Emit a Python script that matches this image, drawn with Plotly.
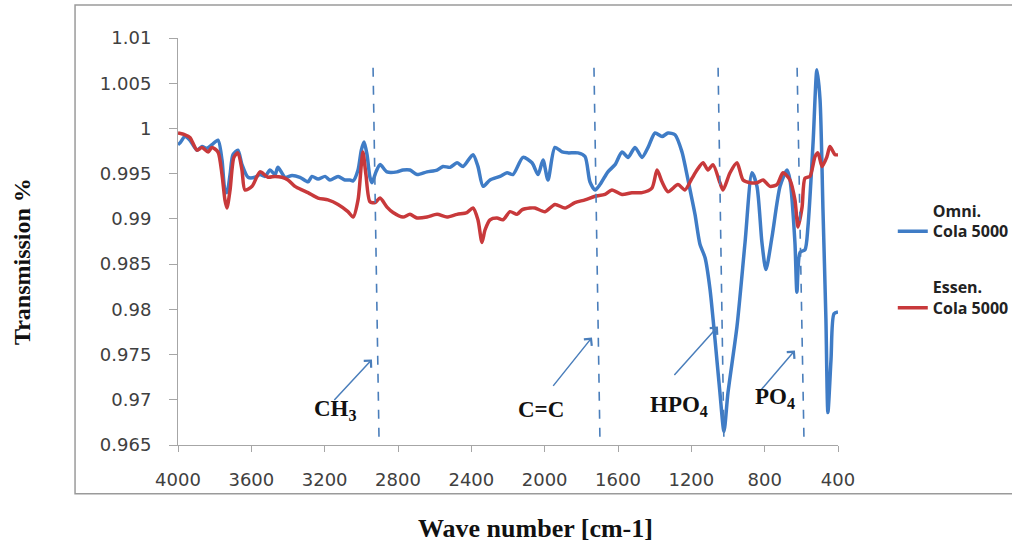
import plotly.graph_objects as go

# ---- data ----
wn_omni = [4000, 3989, 3962, 3935, 3896, 3869, 3842, 3815, 3782, 3760, 3744, 3733, 3716, 3700,
           3673, 3651, 3618, 3580, 3553, 3525, 3498, 3471, 3455, 3416, 3378, 3335, 3291, 3269,
           3236, 3198, 3171, 3127, 3089, 3062, 3045, 3018, 3000, 2985, 2969, 2953, 2942, 2920,
           2898, 2860, 2805, 2773, 2735, 2696, 2642, 2587, 2555, 2516, 2478, 2445, 2391, 2364,
           2336, 2298, 2244, 2205, 2173, 2118, 2069, 2036, 2009, 1982, 1944, 1905, 1873, 1818,
           1780, 1753, 1725, 1698, 1655, 1616, 1578, 1545, 1507, 1469, 1436, 1398, 1360, 1327,
           1289, 1251, 1229, 1207, 1180, 1153, 1125, 1098, 1071, 1044, 1022, 1000, 951, 907,
           869, 842, 815, 793, 760, 716, 678, 662, 635, 624, 607, 580, 564, 536, 515, 498,
           482, 466, 455, 438, 422, 400]
tr_omni = [0.9982, 0.9984, 0.9991, 0.9987, 0.9976, 0.9980, 0.9978, 0.9982, 0.9987, 0.9965,
           0.9932, 0.9929, 0.9949, 0.9971, 0.9976, 0.9960, 0.9946, 0.9946, 0.9949, 0.9947,
           0.9954, 0.9949, 0.9957, 0.9946, 0.9948, 0.9946, 0.9941, 0.9947, 0.9944, 0.9947,
           0.9943, 0.9947, 0.9943, 0.9943, 0.9942, 0.9954, 0.9976, 0.9985, 0.9971, 0.9946,
           0.9940, 0.9952, 0.9960, 0.9952, 0.9952, 0.9954, 0.9954, 0.9949, 0.9952, 0.9954,
           0.9958, 0.9957, 0.9962, 0.9958, 0.9971, 0.9958, 0.9936, 0.9943, 0.9947, 0.9951,
           0.9949, 0.9968, 0.9962, 0.9949, 0.9965, 0.9943, 0.9979, 0.9974, 0.9973, 0.9973,
           0.9969, 0.9941, 0.9932, 0.9938, 0.9952, 0.9960, 0.9974, 0.9968, 0.9979, 0.9968,
           0.9979, 0.9995, 0.9991, 0.9995, 0.9993, 0.9974, 0.9954, 0.9932, 0.9905, 0.9872,
           0.9857, 0.9822, 0.9767, 0.9708, 0.9665, 0.9708, 0.9781, 0.9874, 0.9951, 0.9936,
           0.9874, 0.9844, 0.9880, 0.9936, 0.9954, 0.9943, 0.9874, 0.9819, 0.9863, 0.9866,
           0.9891, 0.9984, 1.0065, 1.0032, 0.9910, 0.9790, 0.9686, 0.9745, 0.9795, 0.9797]

wn_essen = [4000, 3962, 3935, 3896, 3869, 3836, 3815, 3782, 3760, 3744, 3733, 3716, 3695, 3673,
            3651, 3635, 3596, 3553, 3509, 3471, 3433, 3400, 3362, 3324, 3291, 3236, 3182, 3127,
            3073, 3045, 3018, 3000, 2991, 2975, 2953, 2925, 2898, 2860, 2827, 2773, 2735, 2696,
            2642, 2587, 2533, 2478, 2424, 2391, 2364, 2342, 2325, 2298, 2260, 2227, 2189, 2151,
            2124, 2080, 2053, 1998, 1944, 1889, 1835, 1780, 1725, 1671, 1633, 1578, 1524, 1469,
            1415, 1387, 1360, 1327, 1273, 1235, 1196, 1169, 1136, 1109, 1082, 1044, 1027, 989,
            951, 918, 880, 842, 809, 771, 733, 700, 662, 635, 618, 596, 580, 553, 525, 509,
            487, 460, 444, 416, 400]
tr_essen = [0.9995, 0.9993, 0.9990, 0.9976, 0.9979, 0.9974, 0.9979, 0.9974, 0.9949, 0.9921,
            0.9912, 0.9932, 0.9968, 0.9973, 0.9954, 0.9932, 0.9936, 0.9952, 0.9946, 0.9947,
            0.9946, 0.9943, 0.9936, 0.9932, 0.9929, 0.9923, 0.9921, 0.9916, 0.9908, 0.9902,
            0.9921, 0.9960, 0.9974, 0.9949, 0.9919, 0.9918, 0.9923, 0.9913, 0.9907, 0.9902,
            0.9905, 0.9901, 0.9902, 0.9905, 0.9902, 0.9905, 0.9907, 0.9912, 0.9899, 0.9874,
            0.9888, 0.9899, 0.9901, 0.9899, 0.9908, 0.9905, 0.9910, 0.9912, 0.9912, 0.9908,
            0.9916, 0.9912, 0.9918, 0.9921, 0.9925, 0.9927, 0.9932, 0.9927, 0.9929, 0.9929,
            0.9934, 0.9954, 0.9941, 0.9930, 0.9938, 0.9932, 0.9945, 0.9954, 0.9962, 0.9954,
            0.9960, 0.9940, 0.9932, 0.9951, 0.9962, 0.9943, 0.9940, 0.9940, 0.9943, 0.9936,
            0.9938, 0.9951, 0.9943, 0.9921, 0.9891, 0.9913, 0.9945, 0.9947, 0.9969, 0.9973,
            0.9958, 0.9969, 0.9980, 0.9971, 0.9971]

x_ticks = [4000, 3600, 3200, 2800, 2400, 2000, 1600, 1200, 800, 400]
y_ticks = [0.965, 0.97, 0.975, 0.98, 0.985, 0.99, 0.995, 1.0, 1.005, 1.01]
y_tick_text = ["0.965", "0.97", "0.975", "0.98", "0.985", "0.99", "0.995", "1", "1.005", "1.01"]

# band markers: (wavenumber at top, wavenumber at bottom) of the dashed guide lines
band_lines = [(2936, 2903), (1731, 1698), (1054, 1022), (623, 585)]
band_labels = ["CH<sub>3</sub>", "C=C", "HPO<sub>4</sub>", "PO<sub>4</sub>"]
label_pos = [(3140, 0.9689), (2020, 0.9689), (1270, 0.9693), (744, 0.9702)]
arrow_head = [(2942, 0.97446), (1742, 0.97689), (1055, 0.97810), (635, 0.97545)]
arrow_tail = [(3155, 0.96982), (1960, 0.97137), (1300, 0.97258), (831, 0.97082)]

BLUE = "#3f7cc6"
RED = "#c8393b"
GUIDE = "#4a7ebb"

fig = go.Figure()
fig.add_trace(go.Scatter(x=wn_omni, y=tr_omni, mode="lines", name="Omni.<br>Cola 5000",
                         legendgroup="omni",
                         line=dict(color=BLUE, width=3.5, shape="spline", smoothing=0.7)))
fig.add_trace(go.Scatter(x=wn_essen, y=tr_essen, mode="lines", name="Essen.<br>Cola 5000",
                         legendgroup="essen",
                         line=dict(color=RED, width=3.5, shape="spline", smoothing=0.7)))

shapes = []
for top, bot in band_lines:
    shapes.append(dict(type="line", xref="x", yref="y", x0=top, y0=1.0067, x1=bot, y1=0.965,
                       line=dict(color=GUIDE, width=1.6, dash="dash")))
# outer chart frame
shapes.append(dict(type="rect", xref="paper", yref="paper", x0=-0.156, x1=1.4, y0=-0.120, y1=1.081,
                   line=dict(color="#9a9a9a", width=1.5), layer="below"))

annotations = []
for (hx, hy), (tx, ty) in zip(arrow_head, arrow_tail):
    annotations.append(dict(x=hx, y=hy, ax=tx, ay=ty, xref="x", yref="y", axref="x", ayref="y",
                            text="", showarrow=True, arrowhead=4, arrowsize=1.3, arrowwidth=1.5,
                            arrowcolor=GUIDE))
for txt, (lx, ly) in zip(band_labels, label_pos):
    annotations.append(dict(x=lx, y=ly, xref="x", yref="y", text="<b>" + txt + "</b>",
                            xanchor="center", yanchor="middle",
                            showarrow=False, font=dict(family="Liberation Serif", size=23, color="#111111")))
annotations.append(dict(x=0.542, y=-0.204, xref="paper", yref="paper", text="<b>Wave number [cm-1]</b>",
                        xanchor="center", yanchor="middle",
                        showarrow=False, font=dict(family="Liberation Serif", size=26, color="#111111")))
annotations.append(dict(x=-0.236, y=0.45, xref="paper", yref="paper", text="<b>Transmission %</b>",
                        textangle=-90, xanchor="center", yanchor="middle", showarrow=False,
                        font=dict(family="Liberation Serif", size=24, color="#111111")))

fig.update_layout(
    width=1012, height=543,
    margin=dict(l=178, r=174, t=38, b=98, autoexpand=False),
    paper_bgcolor="white", plot_bgcolor="white",
    showlegend=True,
    legend=dict(x=1.083, y=0.618, xanchor="left", yanchor="top", valign="bottom",
                font=dict(family="Open Sans", size=16, color="#222222", weight="bold"),
                tracegroupgap=32, bgcolor="rgba(0,0,0,0)"),
    shapes=shapes, annotations=annotations,
    xaxis=dict(range=[4000, 400], tickvals=x_ticks, ticks="outside", ticklen=6,
               tickcolor="#a6a6a6", showline=True, linecolor="#a6a6a6", linewidth=1,
               showgrid=False, zeroline=False, ticklabelstandoff=12,
               tickfont=dict(family="DejaVu Sans", size=18, color="#404040")),
    yaxis=dict(range=[0.965, 1.01], tickvals=y_ticks, ticktext=y_tick_text, ticks="outside",
               ticklen=8, tickcolor="#a6a6a6", showline=True, linecolor="#a6a6a6", linewidth=1,
               showgrid=False, zeroline=False, ticklabelstandoff=14,
               tickfont=dict(family="DejaVu Sans", size=18, color="#404040")),
)

fig.write_html("out.html")
